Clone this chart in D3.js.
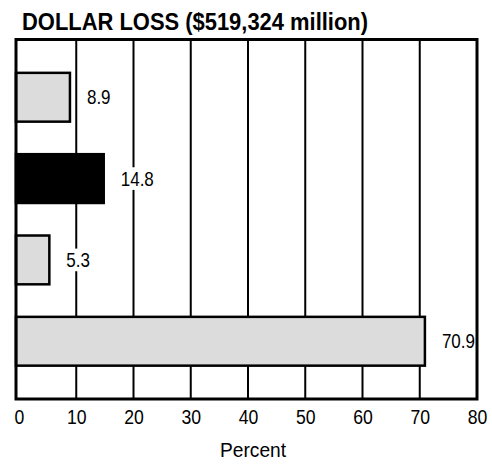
<!DOCTYPE html>
<html>
<head>
<meta charset="utf-8">
<script src="https://cdn.jsdelivr.net/npm/d3@7"></script>
<style>
  html, body { margin: 0; padding: 0; background: #fff; }
  svg { display: block; }
  text { font-family: "Liberation Sans", Arial, sans-serif; fill: #000; }
</style>
</head>
<body>
<div id="chart"></div>
<script>
const title = "DOLLAR LOSS ($519,324 million)";
const categories = ["A", "B", "C", "D"];
const values = [8.9, 14.8, 5.3, 70.9];
const valueLabels = ["8.9", "14.8", "5.3", "70.9"];
const fills = ["#dcdcdc", "#000000", "#dcdcdc", "#dcdcdc"];
const xTicks = [0, 10, 20, 30, 40, 50, 60, 70, 80];
const xLabel = "Percent";

(function() {
const W = 492, H = 468;
const svg = d3.select("#chart").append("svg").attr("width", W).attr("height", H);

const x = d3.scaleLinear().domain([0, 80]).range([19, 477]);
const y = d3.scaleBand().domain(categories).range([39.5, 399]).paddingInner(0.4).paddingOuter(0.41);

const frameLeft = x(0) - 3;
const plotTop = y.range()[0], plotBottom = y.range()[1];

// title
svg.append("text")
  .attr("x", 22).attr("y", 30)
  .attr("font-size", 24.5).attr("font-weight", "bold")
  .attr("textLength", 346).attr("lengthAdjust", "spacingAndGlyphs")
  .text(title);

// gridlines
svg.append("g").selectAll("line")
  .data(xTicks.filter(t => t > 0 && t < 80))
  .join("line")
  .attr("x1", d => x(d)).attr("x2", d => x(d))
  .attr("y1", plotTop).attr("y2", plotBottom)
  .attr("stroke", "#000").attr("stroke-width", 2);

// bars
svg.append("g").selectAll("rect")
  .data(values)
  .join("rect")
  .attr("x", frameLeft)
  .attr("y", (d, i) => y(categories[i]))
  .attr("width", d => x(d) - frameLeft)
  .attr("height", y.bandwidth())
  .attr("fill", (d, i) => fills[i])
  .attr("stroke", "#000").attr("stroke-width", 2.5);

// value labels with white background
const lab = svg.append("g").selectAll("g")
  .data(values)
  .join("g")
  .attr("transform", (d, i) => `translate(${x(d) + 17},${y(categories[i]) + y.bandwidth() / 2 + 7}) scale(0.85,1)`);
lab.append("text")
  .attr("font-size", 20)
  .text((d, i) => valueLabels[i]);
lab.each(function() {
  const g = d3.select(this);
  const bb = g.select("text").node().getBBox();
  g.insert("rect", "text")
    .attr("x", bb.x - 3).attr("y", bb.y)
    .attr("width", bb.width + 6).attr("height", bb.height)
    .attr("fill", "#fff");
});

// frame
svg.append("rect")
  .attr("x", frameLeft).attr("y", plotTop)
  .attr("width", x(80) - frameLeft).attr("height", plotBottom - plotTop)
  .attr("fill", "none").attr("stroke", "#000").attr("stroke-width", 3);

// axis tick labels
const xAxis = d3.axisBottom(x).tickValues(xTicks).tickSize(0).tickPadding(0).tickFormat(d3.format("d"));
const ax = svg.append("g").attr("transform", `translate(0,${plotBottom})`).call(xAxis);
ax.select(".domain").remove();
ax.selectAll(".tick text")
  .attr("font-family", "Liberation Sans, Arial, sans-serif")
  .attr("font-size", 20.5)
  .attr("fill", "#000")
  .attr("dy", null)
  .attr("y", 25.5)
  .attr("x", 0)
  .attr("transform", "scale(0.86,1)");

// axis title
svg.append("text")
  .attr("x", 253).attr("y", 457)
  .attr("text-anchor", "middle")
  .attr("font-size", 21)
  .attr("textLength", 66).attr("lengthAdjust", "spacingAndGlyphs")
  .text(xLabel);
})();
</script>
</body>
</html>
